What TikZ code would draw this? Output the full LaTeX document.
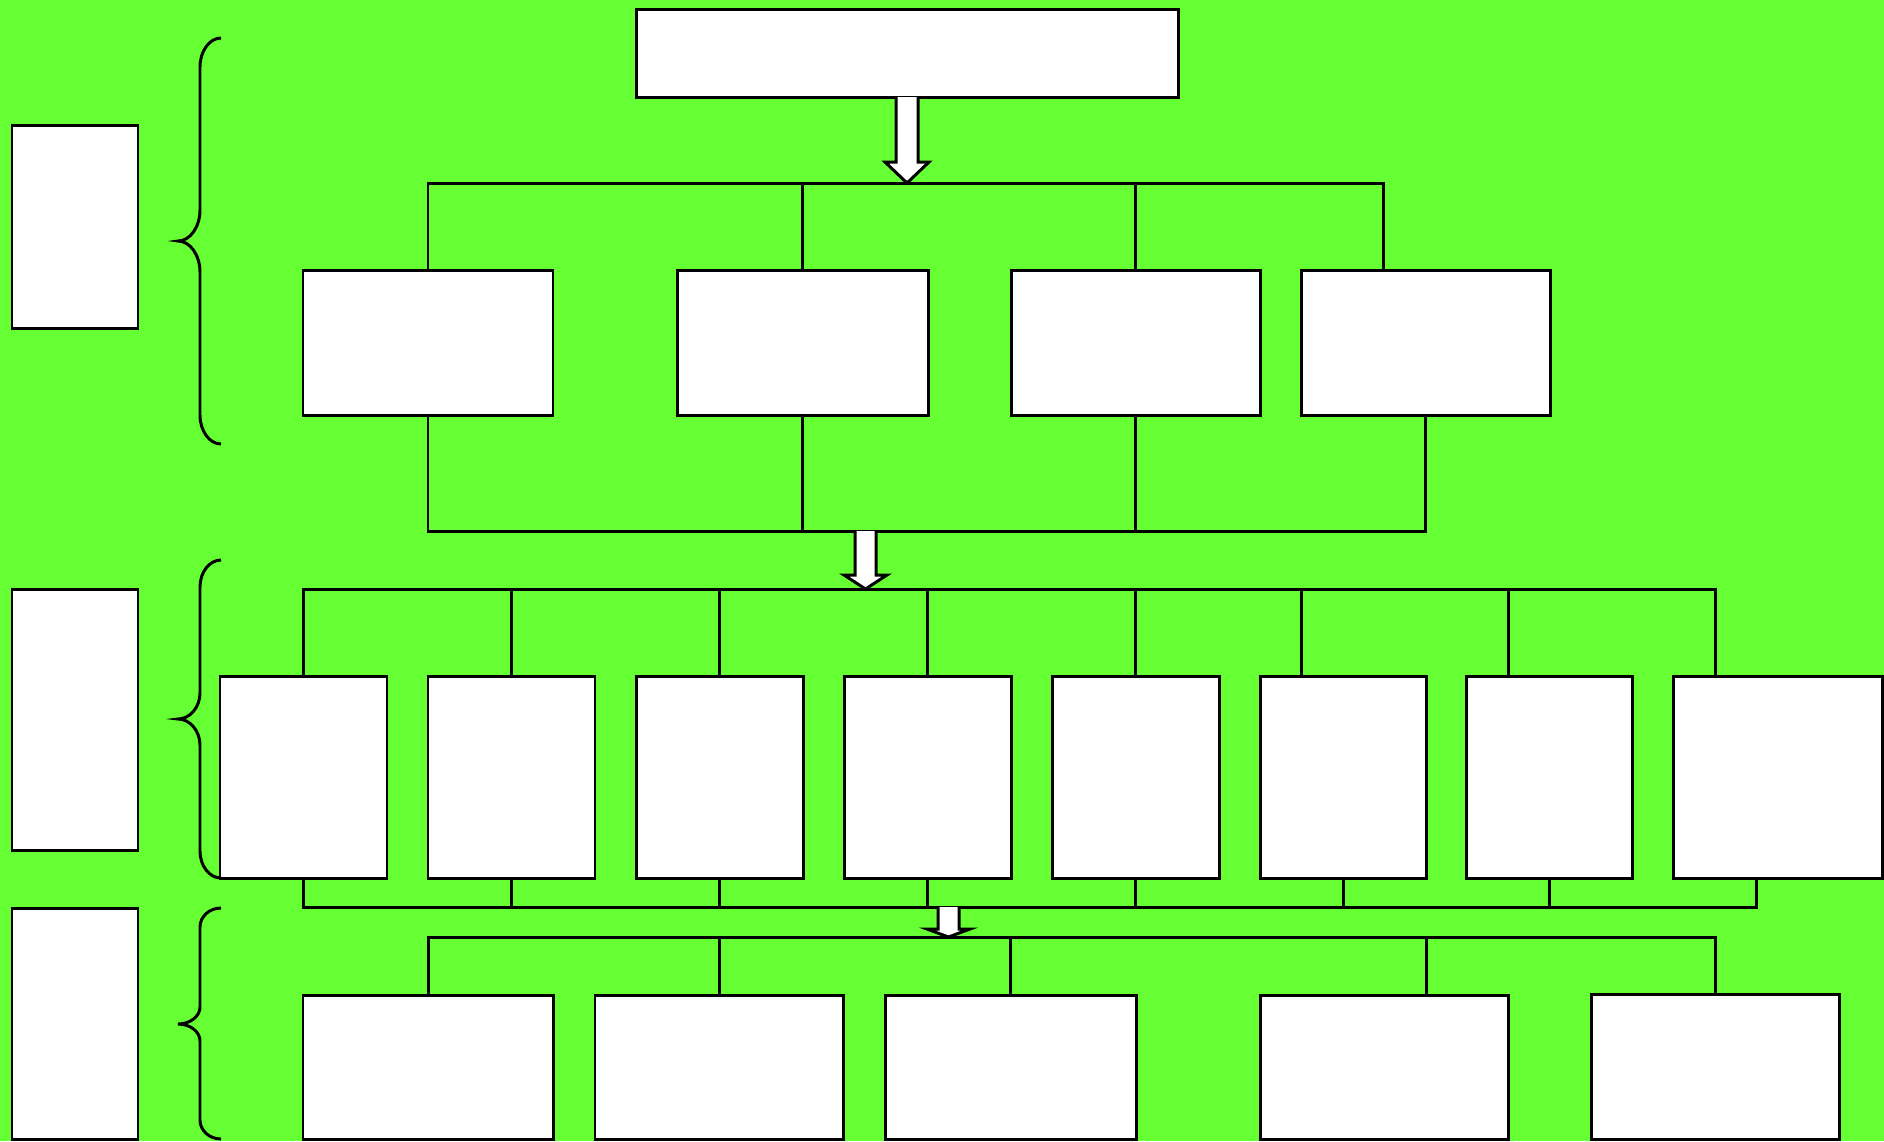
\documentclass[tikz,border=0pt]{standalone}
\usetikzlibrary{fit,calc}
\definecolor{bggreen}{RGB}{102,255,51}
\begin{document}
\begin{tikzpicture}[x=0.01cm,y=-0.01cm,
  box/.style={draw=black, fill=white, inner sep=0pt, outer sep=0pt, line width=0.85pt},
  conn/.style={draw=black, line width=0.85pt},
  bigarrow/.style={draw=black, fill=white, line width=0.85pt, line join=miter},
  brace/.style={draw=black, line width=0.85pt}]
\path[use as bounding box] (0,0) rectangle (1884,1141);
\fill[bggreen] (0,0) rectangle (1884,1141);

% bus levels
\coordinate (busA) at (0,183);
\coordinate (busB) at (0,531);
\coordinate (busC) at (0,589);
\coordinate (busD) at (0,907);
\coordinate (busE) at (0,937);

% top and level 1
\node[box, fit={(636,9)(1178,97)}] (T) {};
\node[box, fit={(303,270)(553,415)}] (a1) {};
\node[box, fit={(677,270)(928,415)}] (b1) {};
\node[box, fit={(1011,270)(1260,415)}] (c1) {};
\node[box, fit={(1301,270)(1550,415)}] (d1) {};

% level 2
\node[box, fit={(220,676)(387,878)}] (e1) {};
\node[box, fit={(428,676)(595,878)}] (e2) {};
\node[box, fit={(636,676)(803,878)}] (e3) {};
\node[box, fit={(844.5,676)(1011,878)}] (e4) {};
\node[box, fit={(1052.5,676)(1219,878)}] (e5) {};
\node[box, fit={(1260,676)(1426,878)}] (e6) {};
\node[box, fit={(1466.5,676)(1632.5,878)}] (e7) {};
\node[box, fit={(1673.5,676)(1882.5,878)}] (e8) {};

% level 3
\node[box, fit={(303,995)(553.5,1139.5)}] (f1) {};
\node[box, fit={(595,995)(843.5,1139.5)}] (f2) {};
\node[box, fit={(885,995)(1136,1139.5)}] (f3) {};
\node[box, fit={(1260.5,995)(1508,1139.5)}] (f4) {};
\node[box, fit={(1591,994)(1839,1139.5)}] (f5) {};

% left boxes
\node[box, fit={(12,125)(138,328)}] (g1) {};
\node[box, fit={(12,589)(138,850)}] (g2) {};
\node[box, fit={(12,908)(138,1139)}] (g3) {};

% off-centre attachment points
\coordinate (d1in) at ($(d1.north west)!0.333!(d1.north east)$);
\coordinate (e6in) at ($(e6.north west)!0.25!(e6.north east)$);
\coordinate (e7in) at ($(e7.north west)!0.25!(e7.north east)$);
\coordinate (e8in) at ($(e8.north west)!0.2!(e8.north east)$);
\coordinate (e8out) at ($(e8.south west)!0.395!(e8.south east)$);
\coordinate (f4in) at ($(f4.north west)!0.67!(f4.north east)$);

% level 1 connectors
\draw[conn] (a1.north) -- (a1.north |- busA) -- (d1in |- busA) -- (d1in);
\draw[conn] (b1.north) -- (b1.north |- busA);
\draw[conn] (c1.north) -- (c1.north |- busA);
\draw[conn] (a1.south) -- (a1.south |- busB) -- (d1.south |- busB) -- (d1.south);
\draw[conn] (b1.south) -- (b1.south |- busB);
\draw[conn] (c1.south) -- (c1.south |- busB);

% level 2 connectors
\draw[conn] (e1.north) -- (e1.north |- busC) -- (e8in |- busC) -- (e8in);
\draw[conn] (e2.north) -- (e2.north |- busC);
\draw[conn] (e3.north) -- (e3.north |- busC);
\draw[conn] (e4.north) -- (e4.north |- busC);
\draw[conn] (e5.north) -- (e5.north |- busC);
\draw[conn] (e6in) -- (e6in |- busC);
\draw[conn] (e7in) -- (e7in |- busC);
\draw[conn] (e1.south) -- (e1.south |- busD) -- (e8out |- busD) -- (e8out);
\draw[conn] (e2.south) -- (e2.south |- busD);
\draw[conn] (e3.south) -- (e3.south |- busD);
\draw[conn] (e4.south) -- (e4.south |- busD);
\draw[conn] (e5.south) -- (e5.south |- busD);
\draw[conn] (e6.south) -- (e6.south |- busD);
\draw[conn] (e7.south) -- (e7.south |- busD);

% level 3 connectors
\draw[conn] (f1.north) -- (f1.north |- busE) -- (f5.north |- busE) -- (f5.north);
\draw[conn] (f2.north) -- (f2.north |- busE);
\draw[conn] (f3.north) -- (f3.north |- busE);
\draw[conn] (f4in) -- (f4in |- busE);

% block arrows
\draw[bigarrow] (896,97) -- (896,162) -- (885,162) -- (907,183) -- (929,162) -- (918,162) -- (918,97);
\draw[bigarrow] (855,531) -- (855,575) -- (844,575) -- (865.5,589) -- (887,575) -- (876,575) -- (876,531);
\draw[bigarrow] (938,907) -- (938,929) -- (927,929) -- (948.5,937) -- (970,929) -- (959,929) -- (959,907);

% braces
\draw[brace] (221,38) .. controls (209.5,38) and (200,51) .. (200,67) -- (200,210)
  .. controls (200,227) and (190,241) .. (178,241)
  .. controls (190,241) and (200,255) .. (200,272) -- (200,415)
  .. controls (200,431) and (209.5,444) .. (221,444);
\draw[brace] (221,560) .. controls (209.5,560) and (200,572) .. (200,587) -- (200,693)
  .. controls (200,707) and (190,719) .. (178,719)
  .. controls (190,719) and (200,731) .. (200,745) -- (200,851)
  .. controls (200,866) and (209.5,878) .. (221,878);
\draw[brace] (221,908) .. controls (209.5,908) and (200,916.5) .. (200,927) -- (200,1007)
  .. controls (200,1016.5) and (190,1024) .. (178,1024)
  .. controls (190,1024) and (200,1031.5) .. (200,1041) -- (200,1120)
  .. controls (200,1130.5) and (209.5,1139) .. (221,1139);
\end{tikzpicture}
\end{document}
